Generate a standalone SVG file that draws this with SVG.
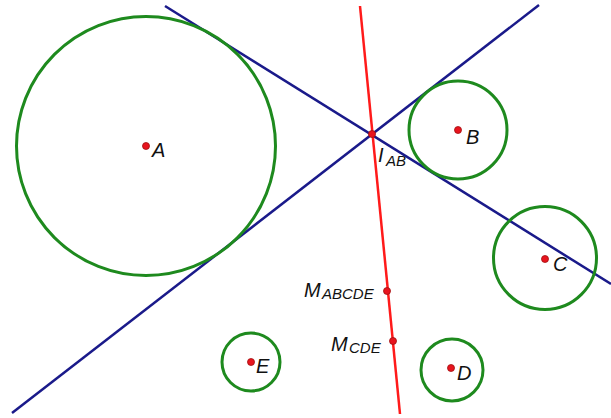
<svg xmlns="http://www.w3.org/2000/svg" width="611" height="418" viewBox="0 0 611 418">
<style>
.circ{fill:none;stroke:#1e8a1e;stroke-width:3}
.bl{stroke:#1a1a8a;stroke-width:2.5;fill:none}
.rd{stroke:#ff1a1a;stroke-width:2.5;fill:none}
.pt{fill:#e8141e;stroke:#a01010;stroke-width:0.8}
.lb{font-family:"Liberation Sans",Arial,sans-serif;font-style:italic;font-size:20px;fill:#111}
.sb{font-size:15px}
</style>
<rect width="611" height="418" fill="#fff"/>
<g id="connectors">
<line class="bl" x1="12" y1="413" x2="539" y2="5"/>
<line class="bl" x1="165" y1="6" x2="611" y2="284"/>
<line class="rd" x1="360" y1="6" x2="400" y2="414"/>
</g>
<g id="circleA"><circle class="circ" cx="146" cy="146" r="129.5"/><circle class="pt" cx="146" cy="146" r="3.5"/><text class="lb" x="152" y="157">A</text></g>
<g id="circleB"><circle class="circ" cx="458" cy="130" r="49"/><circle class="pt" cx="458" cy="130" r="3.5"/><text class="lb" x="466" y="144">B</text></g>
<g id="circleC"><circle class="circ" cx="545" cy="258" r="51.5"/><circle class="pt" cx="545" cy="259" r="3.5"/><text class="lb" x="553" y="271">C</text></g>
<g id="circleD"><circle class="circ" cx="452" cy="370" r="31"/><circle class="pt" cx="451" cy="368" r="3.5"/><text class="lb" x="457" y="380">D</text></g>
<g id="circleE"><circle class="circ" cx="251" cy="362" r="29"/><circle class="pt" cx="251" cy="362" r="3.5"/><text class="lb" x="256" y="373">E</text></g>
<g id="IAB"><circle class="pt" cx="372" cy="134" r="3.5"/><text class="lb" x="378" y="162">I<tspan class="sb" x="386" y="166">AB</tspan></text></g>
<g id="MABCDE"><circle class="pt" cx="387" cy="291" r="3.5"/><text class="lb" x="304" y="297">M<tspan class="sb" x="322" y="299">ABCDE</tspan></text></g>
<g id="MCDE"><circle class="pt" cx="393" cy="341" r="3.5"/><text class="lb" x="331" y="351">M<tspan class="sb" x="349" y="353">CDE</tspan></text></g>
</svg>
